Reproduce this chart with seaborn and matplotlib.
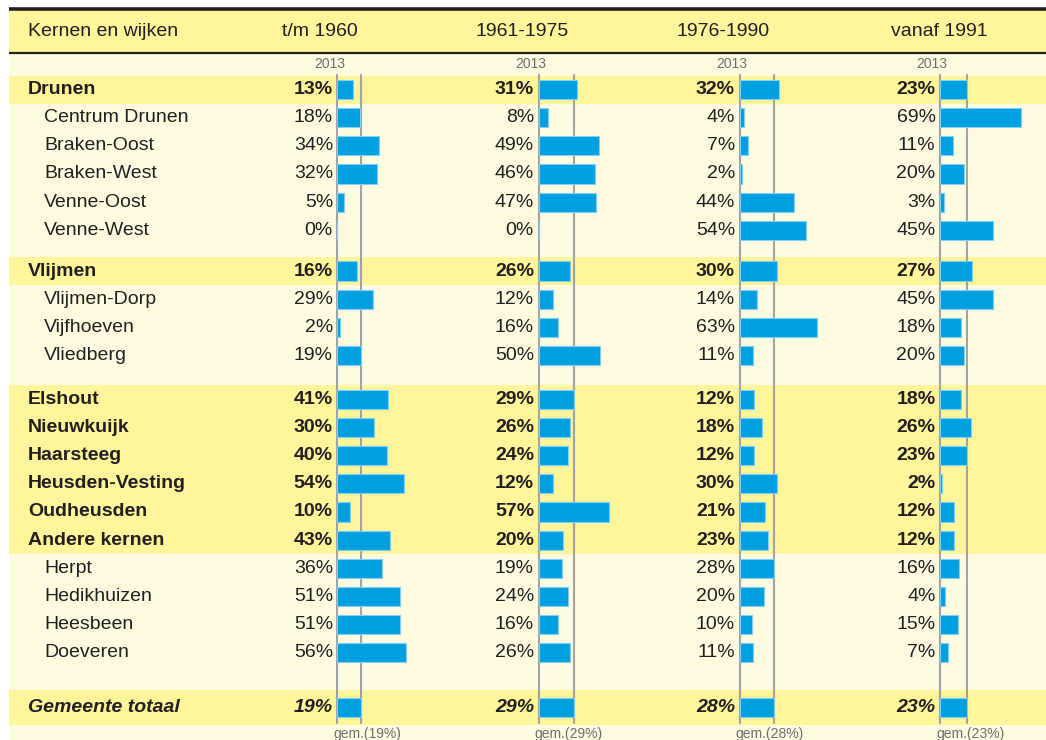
import matplotlib
matplotlib.use("Agg")
import matplotlib.pyplot as plt
import seaborn as sns
import pandas as pd

# ---------------- data ----------------
periods = ["t/m 1960", "1961-1975", "1976-1990", "vanaf 1991"]
names = ["Drunen", "Centrum Drunen", "Braken-Oost", "Braken-West", "Venne-Oost", "Venne-West",
         "Vlijmen", "Vlijmen-Dorp", "Vijfhoeven", "Vliedberg",
         "Elshout", "Nieuwkuijk", "Haarsteeg", "Heusden-Vesting", "Oudheusden", "Andere kernen",
         "Herpt", "Hedikhuizen", "Heesbeen", "Doeveren",
         "Gemeente totaal"]
kinds = ["group", "sub", "sub", "sub", "sub", "sub",
         "group", "sub", "sub", "sub",
         "group", "group", "group", "group", "group", "group",
         "sub", "sub", "sub", "sub",
         "total"]
v_1960 = [13, 18, 34, 32, 5, 0, 16, 29, 2, 19, 41, 30, 40, 54, 10, 43, 36, 51, 51, 56, 19]
v_1975 = [31, 8, 49, 46, 47, 0, 26, 12, 16, 50, 29, 26, 24, 12, 57, 20, 19, 24, 16, 26, 29]
v_1990 = [32, 4, 7, 2, 44, 54, 30, 14, 63, 11, 12, 18, 12, 30, 21, 23, 28, 20, 10, 11, 28]
v_1991 = [23, 69, 11, 20, 3, 45, 27, 45, 18, 20, 18, 26, 23, 2, 12, 12, 16, 4, 15, 7, 23]
averages = [19, 29, 28, 23]
ref_year = "2013"
header_first = "Kernen en wijken"

# ---------------- layout ----------------
W, H = 1046, 740
pitch = 28.15
extra_gap = {"Vlijmen": 12.6, "Elshout": 15.8, "Gemeente totaal": 27.0}
ypos = []
y = 89.5
for i, n in enumerate(names):
    if i > 0:
        y += pitch + extra_gap.get(n, 0.0)
    ypos.append(y)

baselines = [337.5, 538.5, 739.5, 940.0]
scales = [1.23, 1.23, 1.235, 1.18]
header_centers = [320, 522, 723, 939]

cream = "#FFFBE1"
yellow = "#FFF59B"
dark = "#231F20"
grey_txt = "#6D6E71"
line_grey = "#A3A3A3"
bar_col = "#009FDF"
bar_edge = "#7FCFF2"

sns.set_theme(style="white")
plt.rcParams["font.family"] = ["Liberation Sans", "DejaVu Sans"]

fig = plt.figure(figsize=(W / 100, H / 100), dpi=100)
fig.patch.set_facecolor("white")
bg = fig.add_axes([0, 0, 1, 1])
bg.set_xlim(0, W)
bg.set_ylim(H, 0)
bg.axis("off")

left = 9
# cream body
bg.add_patch(plt.Rectangle((left, 53), W - left, H - 53, color=cream, lw=0, zorder=0))
# header
bg.add_patch(plt.Rectangle((left, 10), W - left, 42, color=yellow, lw=0, zorder=0))
bg.plot([left, W], [9.0, 9.0], color=dark, lw=2.6, solid_capstyle="butt", zorder=1)
bg.plot([left, W], [52.5, 52.5], color=dark, lw=1.6, solid_capstyle="butt", zorder=1)

# highlight bands
half = 14.0
idx = {n: i for i, n in enumerate(names)}
bands = [(ypos[idx["Drunen"]] - half, ypos[idx["Drunen"]] + half),
         (ypos[idx["Vlijmen"]] - half, ypos[idx["Vlijmen"]] + half),
         (ypos[idx["Elshout"]] - half, ypos[idx["Andere kernen"]] + half),
         (ypos[idx["Gemeente totaal"]] - 17.5, ypos[idx["Gemeente totaal"]] + 17.5)]
for y0, y1 in bands:
    bg.add_patch(plt.Rectangle((left, y0), W - left, y1 - y0, color=yellow, lw=0, zorder=0.5))

# header texts
fs = 14
bg.text(28, 31, header_first, ha="left", va="center", fontsize=fs, color=dark)
for c, p in zip(header_centers, periods):
    bg.text(c, 31, p, ha="center", va="center", fontsize=fs, color=dark)

# row names
for n, k, yy in zip(names, kinds, ypos):
    if k == "group":
        bg.text(28, yy, n, ha="left", va="center", fontsize=fs, color=dark, fontweight="bold")
    elif k == "total":
        bg.text(28, yy, n, ha="left", va="center", fontsize=fs, color=dark,
                fontweight="bold", fontstyle="italic")
    else:
        bg.text(44, yy, n, ha="left", va="center", fontsize=fs, color=dark)

# long-form data
series = [v_1960, v_1975, v_1990, v_1991]
records = []
for p, vals in zip(periods, series):
    for n, k, yy, v in zip(names, kinds, ypos, vals):
        records.append({"periode": p, "naam": n, "soort": k, "y": yy, "waarde": v})
df = pd.DataFrame(records)

line_top, line_bot = 75, 723
for j, p in enumerate(periods):
    b, s = baselines[j], scales[j]
    ax = fig.add_axes([0, 0, 1, 1])
    ax.patch.set_alpha(0)
    sub = df[df["periode"] == p]
    sns.barplot(data=sub, x="waarde", y="y", orient="h", native_scale=True,
                color=bar_col, saturation=1, width=0.68, errorbar=None,
                edgecolor=bar_edge, linewidth=0.8, ax=ax, zorder=3)
    ax.set_xlim(-b / s, (W - b) / s)
    ax.set_ylim(H, 0)
    ax.axis("off")
    # baseline and average lines
    ax.plot([0, 0], [line_top, line_bot], color=line_grey, lw=1.5, zorder=2)
    ax.plot([averages[j], averages[j]], [line_top, line_bot], color=line_grey, lw=1.5, zorder=2)
    # labels
    ax.text(-8 / s, 64, ref_year, ha="center", va="center", fontsize=10, color=grey_txt)
    ax.text(-4 / s, 734, f"gem.({averages[j]}%)", ha="left", va="center", fontsize=10, color=grey_txt)
    for _, r in sub.iterrows():
        kw = {}
        if r["soort"] == "group":
            kw = dict(fontweight="bold")
        elif r["soort"] == "total":
            kw = dict(fontweight="bold", fontstyle="italic")
        ax.text(-4.5 / s, r["y"], f"{r['waarde']}%", ha="right", va="center",
                fontsize=fs, color=dark, **kw)

fig.savefig("out.png", dpi=100, facecolor=fig.get_facecolor())
